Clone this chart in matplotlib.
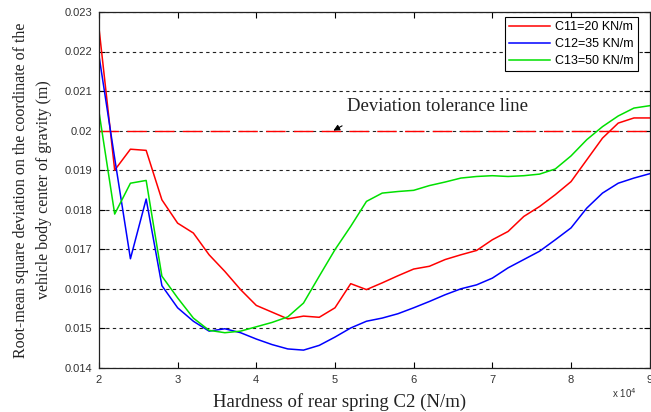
import numpy as np
import matplotlib
matplotlib.use("Agg")
import matplotlib.pyplot as plt

# hardness of rear spring C2, in 1e4 N/m
c2 = [2.0, 2.2, 2.4, 2.6, 2.8, 3.0, 3.2, 3.4, 3.6, 3.8, 4.0, 4.2, 4.4, 4.6, 4.8,
      5.0, 5.2, 5.4, 5.6, 5.8, 6.0, 6.2, 6.4, 6.6, 6.8, 7.0, 7.2, 7.4, 7.6, 7.8,
      8.0, 8.2, 8.4, 8.6, 8.8, 9.0]

rms_c11 = [0.0226, 0.0190, 0.01953, 0.0195, 0.01825, 0.01766, 0.01741, 0.01686,
           0.01644, 0.01598, 0.01558, 0.01541, 0.01524, 0.01531, 0.01528, 0.01552,
           0.01613, 0.01598, 0.01615, 0.01633, 0.0165, 0.01657, 0.01674, 0.01686,
           0.01697, 0.01724, 0.01745, 0.01783, 0.01808, 0.01838, 0.01871, 0.01926,
           0.01981, 0.02019, 0.02032, 0.02032]

rms_c12 = [0.0219, 0.0193, 0.01676, 0.01827, 0.01608, 0.01552, 0.01518, 0.01493,
           0.01499, 0.01489, 0.01473, 0.01459, 0.01448, 0.01445, 0.01457, 0.01478,
           0.01501, 0.01518, 0.01526, 0.01537, 0.01552, 0.01568, 0.01585, 0.0160,
           0.0161, 0.01627, 0.01653, 0.01674, 0.01695, 0.01724, 0.01754, 0.01804,
           0.01842, 0.01867, 0.0188, 0.01891]

rms_c13 = [0.02048, 0.01789, 0.01867, 0.01874, 0.01632, 0.01577, 0.01526, 0.01495,
           0.01489, 0.01493, 0.01504, 0.01515, 0.01529, 0.01564, 0.01632, 0.01699,
           0.01758, 0.01821, 0.01842, 0.01846, 0.01849, 0.01861, 0.0187, 0.0188,
           0.01884, 0.01886, 0.01884, 0.01886, 0.0189, 0.01903, 0.01936, 0.01977,
           0.0201, 0.02037, 0.02057, 0.02063]

labels = ["C11=20 KN/m", "C12=35 KN/m", "C13=50 KN/m"]
tolerance = 0.02

y_ticks = [0.014, 0.015, 0.016, 0.017, 0.018, 0.019, 0.02, 0.021, 0.022, 0.023]
y_tick_labels = ["0.014", "0.015", "0.016", "0.017", "0.018", "0.019", "0.02",
                 "0.021", "0.022", "0.023"]
x_ticks = [2, 3, 4, 5, 6, 7, 8, 9]

serif = ["Liberation Serif", "DejaVu Serif"]
sans = ["Liberation Sans", "DejaVu Sans"]

fig = plt.figure(figsize=(6.51, 4.12), dpi=100)
ax = fig.add_axes([0.152, 0.107, 0.846, 0.864])

ax.set_axisbelow(True)
ax.yaxis.grid(True, color="#222222", linestyle=(0, (3, 3)), linewidth=0.8)

ax.axhline(tolerance, color="#ff0000", linewidth=1.0, linestyle=(0, (14, 6)))
ax.plot(c2, rms_c11, color="#ff0000", linewidth=1.1, label=labels[0])
ax.plot(c2, rms_c12, color="#0000ff", linewidth=1.1, label=labels[1])
ax.plot(c2, rms_c13, color="#00e000", linewidth=1.1, label=labels[2])

ax.set_xlim(2, 9)
ax.set_ylim(0.014, 0.023)
ax.set_xticks(x_ticks)
ax.set_xticklabels([str(t) for t in x_ticks], family=sans, fontsize=8, color="#333333")
ax.set_yticks(y_ticks)
ax.set_yticklabels(y_tick_labels, family=sans, fontsize=8, color="#333333")
ax.tick_params(direction="in", top=True, right=True, length=4, pad=5)
for s in ax.spines.values():
    s.set_linewidth(0.9)
    s.set_color("#222222")

# short arrow + label for the tolerance line
ax.annotate("", xy=(4.98, 0.02), xytext=(5.09, 0.02012),
            arrowprops=dict(arrowstyle="-|>", color="black", lw=0.8,
                            mutation_scale=9, shrinkA=0, shrinkB=0))
ax.text(5.15, 0.0206, "Deviation tolerance line", family=serif, fontsize=13.5,
        color="#222222", va="center")

ax.set_xlabel("Hardness of rear spring C2 (N/m)", family=serif, fontsize=13.5,
              color="#222222")
ax.xaxis.set_label_coords(0.436, -0.072)
ax.set_ylabel("Root-mean square deviation on the coordinate of the\n"
              "vehicle body center of gravity (m)", family=serif, fontsize=11.5,
              labelpad=9, color="#222222", linespacing=1.55)

fig.text(0.94, 0.035, "x 10$^4$", family=sans, fontsize=7, color="#333333")

leg = ax.legend(loc="upper right", bbox_to_anchor=(0.978, 0.985), prop=dict(family=sans, size=9),
                fancybox=False, edgecolor="black", framealpha=1, borderpad=0.3,
                handlelength=3.3, labelspacing=0.4, handletextpad=0.4, borderaxespad=0)
leg.get_frame().set_linewidth(0.8)

fig.savefig("out.png", dpi=100)
